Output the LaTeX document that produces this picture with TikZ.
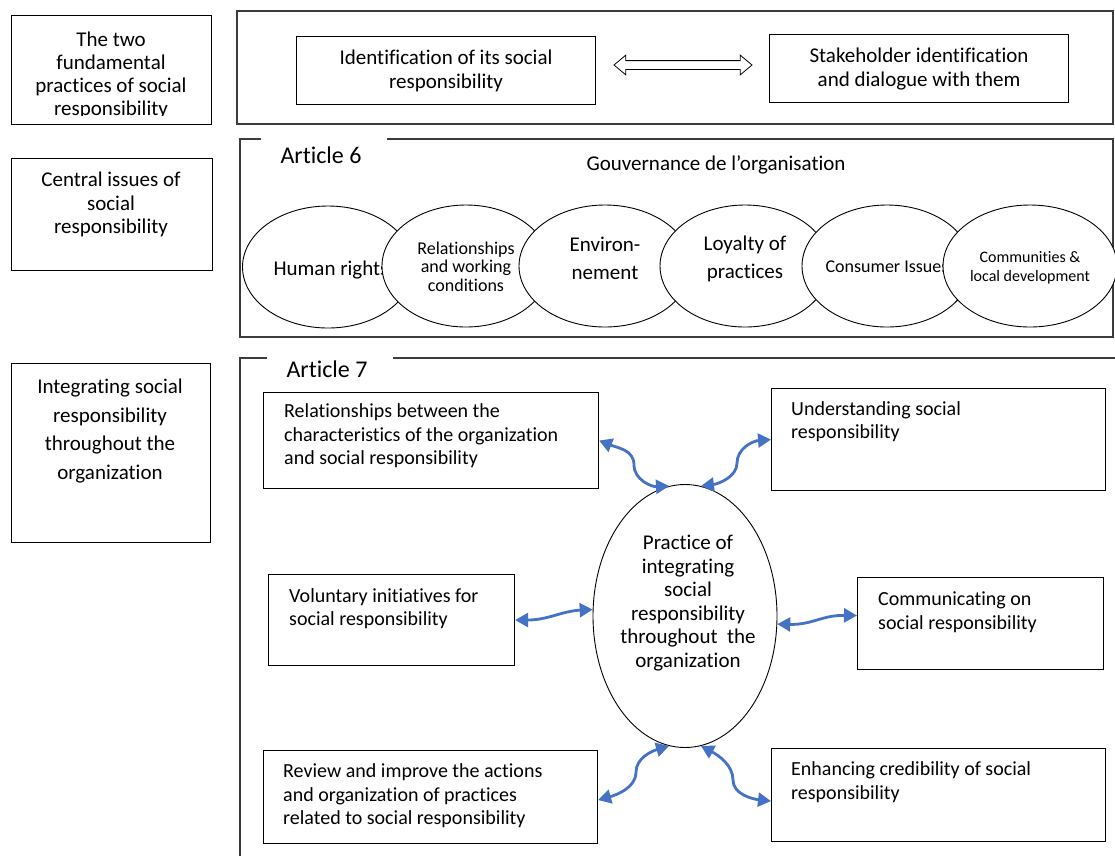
\documentclass[tikz,border=0pt]{standalone}
\usepackage{fontspec}
\setmainfont{Carlito}[Ligatures=NoCommon]
\usetikzlibrary{shapes.geometric,shapes.arrows,arrows.meta}

\definecolor{flowblue}{HTML}{4472C4}
\definecolor{panelgray}{HTML}{3C3C3C}

\begin{document}
\begin{tikzpicture}[x=1pt,y=-1pt,
  box/.style={draw=black, line width=1.1pt, inner sep=0pt, anchor=north west},
  panel/.style={draw=panelgray, line width=1.3pt},
  tx/.style={inner sep=0pt, align=center, font=\fontsize{21pt}{23.5pt}\selectfont},
  boxtx/.style={inner sep=0pt, align=left, anchor=west, font=\fontsize{20pt}{23.5pt}\selectfont},
  heading/.style={inner sep=0pt, font=\fontsize{24pt}{28pt}\selectfont},
  oval/.style={ellipse, draw=black, line width=0.9pt, fill=white, inner sep=0pt, minimum height=122pt},
  flow/.style={draw=flowblue, line width=2.8pt,
    {Triangle[length=13pt,width=14pt]}-{Triangle[length=13pt,width=14pt]}},
]
\useasboundingbox (0,0) rectangle (1115,855);

% ---------- left column: row titles ----------
\node[box, minimum width=200pt, minimum height=109pt] (lab1) at (11,15) {};
\begin{scope}
  \clip (11,15) rectangle (211,115.5);
  \node[tx, font=\fontsize{21pt}{23pt}\selectfont] (lab1t) at (111,75)
    {The two\\fundamental\\practices of social\\responsibility};
\end{scope}

\node[box, minimum width=201pt, minimum height=112pt] (lab2) at (11,158) {};
\node[tx] (lab2t) at (111,204.5) {Central issues of\\social\\responsibility};

\node[box, minimum width=199pt, minimum height=179pt] (lab3) at (11,363) {};
\node[tx, font=\fontsize{21pt}{28.6pt}\selectfont] (lab3t) at (110,431)
  {Integrating social\\responsibility\\throughout the\\organization};

% ---------- row 1: the two fundamental practices ----------
\draw[panel] (237,11) rectangle (1113,124);
\node[box, minimum width=299pt, minimum height=68pt] (idn) at (296,36) {};
\node[tx, font=\fontsize{21pt}{24pt}\selectfont] (idnt) at (idn.center)
  {Identification of its social\\responsibility};
\node[box, minimum width=299pt, minimum height=68pt] (stk) at (769,34) {};
\node[tx, font=\fontsize{21pt}{24pt}\selectfont] (stkt) at (stk.center)
  {Stakeholder identification\\and dialogue with them};
\node[double arrow, draw=black, line width=0.8pt, fill=white,
  inner xsep=0pt, inner ysep=4pt, minimum height=138pt,
  double arrow head extend=5.5pt, double arrow tip angle=80] (swap) at (683,65) {};

% ---------- row 2: core subjects (Article 6) ----------
\draw[panel] (261,139) -| (240,337) -| (1113,139) -- (387,139);
\node[heading] (art6) at (321,155) {Article 6};
\node[tx] (gov) at (716,165) {Gouvernance de l’organisation};

\node[oval, minimum width=171pt] (hr) at (328,267) {};
\node[tx] (hrt) at (331,270) {Human rights};
\node[oval, minimum width=168pt] (rw) at (466,266) {};
\node[tx, font=\fontsize{18pt}{18.5pt}\selectfont] (rwt) at (466,266.5)
  {Relationships\\and working\\conditions};
\node[oval, minimum width=172pt] (env) at (605,266) {};
\node[tx, font=\fontsize{21pt}{28pt}\selectfont] (envt) at (605,258) {Environ-\\nement};
\node[oval, minimum width=170pt] (loy) at (745,266) {};
\node[tx, font=\fontsize{21pt}{28pt}\selectfont] (loyt) at (745,259) {Loyalty of\\practices};
\node[oval, minimum width=170pt] (cons) at (887,266) {};
\node[tx, font=\fontsize{18pt}{21pt}\selectfont] (const) at (887,267) {Consumer Issues};
\node[oval, minimum width=174pt] (comm) at (1030,266) {};
\node[tx, font=\fontsize{16pt}{19pt}\selectfont] (commt) at (1030,267.5)
  {Communities \&\\local development};

% ---------- row 3: integrating social responsibility (Article 7) ----------
\draw[panel] (267,358) -- (240,358) -- (240,860);
\draw[panel] (393,358) -- (1120,358);
\node[heading] (art7) at (327,369) {Article 7};

\node[oval, minimum width=184pt, minimum height=263pt] (core) at (685,616) {};
\node[tx, font=\fontsize{21pt}{23.6pt}\selectfont] (coret) at (688,603)
  {Practice of\\integrating\\social\\responsibility\\throughout~~the\\organization};

\node[box, minimum width=335pt, minimum height=96pt] (r1) at (263,392) {};
\node[boxtx] (r1t) at (284,436)
  {Relationships between the\\characteristics of the organization\\and social responsibility};
\node[box, minimum width=334pt, minimum height=102pt] (r2) at (771,388) {};
\node[boxtx] (r2t) at (791,421.5) {Understanding social\\responsibility};
\node[box, minimum width=246pt, minimum height=91pt] (vol) at (268,574) {};
\node[boxtx] (volt) at (289,608.5) {Voluntary initiatives for\\social responsibility};
\node[box, minimum width=246pt, minimum height=92pt] (com) at (857,577) {};
\node[boxtx] (comt) at (878,612) {Communicating on\\social responsibility};
\node[box, minimum width=334pt, minimum height=93pt] (rev) at (263,750) {};
\node[boxtx] (revt) at (283,796)
  {Review and improve the actions\\and organization of practices\\related to social responsibility};
\node[box, minimum width=334pt, minimum height=93pt] (enh) at (771,748) {};
\node[boxtx] (enht) at (791,782) {Enhancing credibility of social\\responsibility};

% curved two-way links around the central practice
\draw[flow] (r1.east) .. controls (618,448) and (634,450) .. (634,465)
  .. controls (634,480) and (652,487) .. (core.97);
\draw[flow] (core.83) .. controls (718,484) and (737,477) .. (737,463)
  .. controls (737,449) and (752,441) .. (r2.west);
\draw[flow] (vol.east) .. controls (548,620) and (562,611) .. (core.176);
\draw[flow] (core.-5) .. controls (812,625) and (822,615) .. ([yshift=8pt]com.west);
\draw[flow] ([yshift=-3pt]rev.east) .. controls (616,795) and (636,788) .. (636,772)
  .. controls (636,758) and (652,751) .. (core.263);
\draw[flow] (core.277) .. controls (718,755) and (733,765) .. (733,780)
  .. controls (733,794) and (752,799) .. ([yshift=-6pt]enh.west);
\end{tikzpicture}
\end{document}
